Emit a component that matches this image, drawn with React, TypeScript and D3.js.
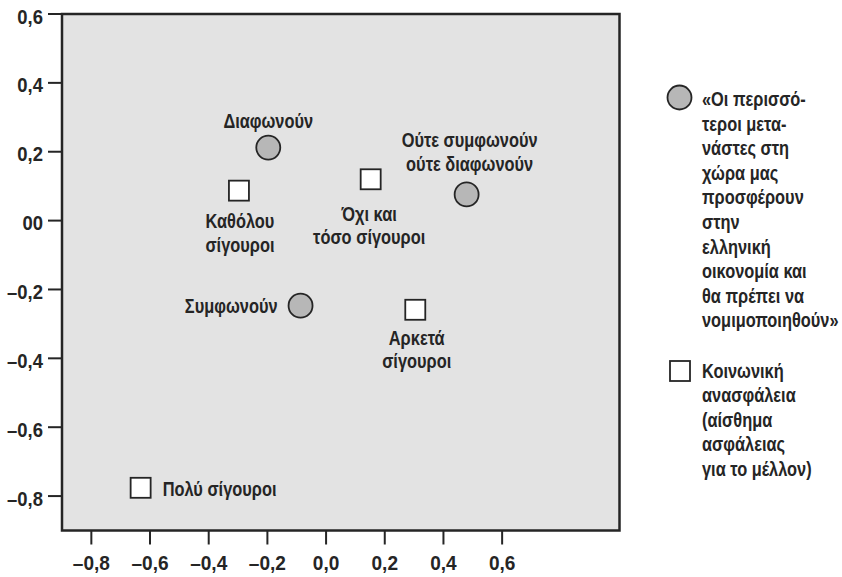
import React from "react";
import * as d3 from "d3";

// Data
const circleLabels = ["Διαφωνούν", "Ούτε συμφωνούν|ούτε διαφωνούν", "Συμφωνούν"];
const circleX = [-0.197, 0.479, -0.087];
const circleY = [0.212, 0.076, -0.247];

const squareLabels = ["Καθόλου|σίγουροι", "Όχι και|τόσο σίγουροι", "Αρκετά|σίγουροι", "Πολύ σίγουροι"];
const squareX = [-0.297, 0.152, 0.304, -0.632];
const squareY = [0.087, 0.12, -0.259, -0.776];

const xTicks = [-0.8, -0.6, -0.4, -0.2, 0.0, 0.2, 0.4, 0.6];
const xTickLabels = ["–0,8", "–0,6", "–0,4", "–0,2", "0,0", "0,2", "0,4", "0,6"];
const yTicks = [0.6, 0.4, 0.2, 0.0, -0.2, -0.4, -0.6, -0.8];
const yTickLabels = ["0,6", "0,4", "0,2", "00", "–0,2", "–0,4", "–0,6", "–0,8"];

const legendCircleText = [
  "«Οι περισσό-",
  "τεροι μετα-",
  "νάστες στη",
  "χώρα μας",
  "προσφέρουν",
  "στην",
  "ελληνική",
  "οικονομία και",
  "θα πρέπει να",
  "νομιμοποιηθούν»",
];
const legendSquareText = ["Κοινωνική", "ανασφάλεια", "(αίσθημα", "ασφάλειας", "για το μέλλον)"];

// label placement: [dx, dy of first baseline, anchor]
const circleLabelPos: [number, number, string][] = [
  [0, -19.5, "middle"],
  [3, -47, "middle"],
  [-23, 7, "end"],
];
const squareLabelPos: [number, number, string][] = [
  [1, 37.6, "middle"],
  [-1.5, 41.4, "middle"],
  [1.4, 35, "middle"],
  [22, 8.4, "start"],
];

const W = 842;
const H = 577;
const left = 62;
const right = 619.5;
const top = 14;
const bottom = 530.5;

const FONT = "'Liberation Sans', Arial, sans-serif";
const INK = "#252525";
const SX = 0.78;
const FS = 21;

function T({ x, y, anchor = "start", size = FS, sx = SX, children }: any) {
  return (
    <text
      transform={`translate(${x},${y}) scale(${sx},1)`}
      textAnchor={anchor}
      fontSize={size}
      fill={INK}
    >
      {children}
    </text>
  );
}

export default function App() {
  const x = d3.scaleLinear().domain([-0.9, 1.0]).range([left, right]);
  const y = d3.scaleLinear().domain([-0.9, 0.6]).range([bottom, top]);
  const lineH = 23.4;

  return (
    <svg
      width={W}
      height={H}
      style={{ position: "absolute", left: 0, top: 0, background: "#fff" }}
      fontFamily={FONT}
      fontWeight="bold"
    >
      <rect x={left} y={top} width={right - left} height={bottom - top} fill="#e3e3e3" stroke={INK} strokeWidth={2.5} />

      {/* y axis ticks */}
      {yTicks.map((t, i) => (
        <g key={"yt" + i}>
          <line x1={left - 14} x2={left} y1={y(t)} y2={y(t)} stroke={INK} strokeWidth={2} />
          <T x={43} y={y(t) + 9.5} anchor="end" size={20.5} sx={0.9}>
            {yTickLabels[i]}
          </T>
        </g>
      ))}

      {/* x axis ticks */}
      {xTicks.map((t, i) => (
        <g key={"xt" + i}>
          <line x1={x(t)} x2={x(t)} y1={bottom} y2={bottom + 14} stroke={INK} strokeWidth={2} />
          <T x={x(t)} y={570} anchor="middle" size={20.5} sx={0.93}>
            {xTickLabels[i]}
          </T>
        </g>
      ))}

      {/* circles */}
      {circleX.map((v, i) => {
        const cx = x(v);
        const cy = y(circleY[i]);
        const [dx, dy, anchor] = circleLabelPos[i];
        const lines = circleLabels[i].split("|");
        return (
          <g key={"c" + i}>
            <circle cx={cx} cy={cy} r={12} fill="#b7b7b7" stroke={INK} strokeWidth={1.8} />
            {lines.map((l, j) => (
              <T key={j} x={cx + dx} y={cy + dy + j * lineH} anchor={anchor}>
                {l}
              </T>
            ))}
          </g>
        );
      })}

      {/* squares */}
      {squareX.map((v, i) => {
        const cx = x(v);
        const cy = y(squareY[i]);
        const [dx, dy, anchor] = squareLabelPos[i];
        const lines = squareLabels[i].split("|");
        return (
          <g key={"s" + i}>
            <rect x={cx - 10} y={cy - 10} width={20} height={20} fill="#fff" stroke={INK} strokeWidth={1.8} />
            {lines.map((l, j) => (
              <T key={j} x={cx + dx} y={cy + dy + j * lineH} anchor={anchor}>
                {l}
              </T>
            ))}
          </g>
        );
      })}

      {/* legend */}
      <circle cx={679.5} cy={97.5} r={12} fill="#b7b7b7" stroke={INK} strokeWidth={1.8} />
      {legendCircleText.map((l, j) => (
        <T key={"lc" + j} x={702} y={106 + j * 24.6}>
          {l}
        </T>
      ))}
      <rect x={670} y={361} width={20} height={20} fill="#fff" stroke={INK} strokeWidth={1.8} />
      {legendSquareText.map((l, j) => (
        <T key={"ls" + j} x={702} y={377.5 + j * 24.6}>
          {l}
        </T>
      ))}
    </svg>
  );
}
